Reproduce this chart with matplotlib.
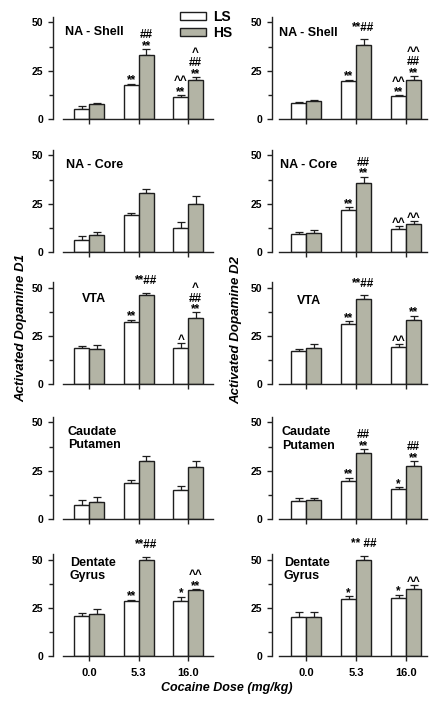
import matplotlib
matplotlib.use('Agg')
import matplotlib.pyplot as plt
import numpy as np

plt.rcParams['font.family'] = ['Liberation Sans', 'DejaVu Sans']
plt.rcParams['font.weight'] = 'bold'

# ---------------- data ----------------
doses = ["0.0", "5.3", "16.0"]
regions = ["NA - Shell", "NA - Core", "VTA", "Caudate\nPutamen", "Dentate\nGyrus"]
series = ["LS", "HS"]
ylabels = ["Activated Dopamine D1", "Activated Dopamine D2"]
xlabel = "Cocaine Dose (mg/kg)"

d1_ls = [[5.3, 17.4, 11.4], [6.0, 19.0, 12.6], [18.6, 32.0, 18.7], [7.4, 18.7, 15.2], [20.7, 28.4, 28.4]]
d1_ls_err = [[1.6, 0.9, 1.0], [2.3, 1.2, 3.1], [1.3, 1.3, 2.4], [2.4, 1.7, 1.9], [1.6, 0.7, 2.4]]
d1_hs = [[7.8, 33.3, 20.3], [8.6, 30.7, 24.8], [18.0, 45.9, 34.0], [8.6, 30.3, 27.2], [21.6, 50.0, 34.2]]
d1_hs_err = [[0.5, 2.9, 1.4], [1.7, 1.9, 4.3], [2.3, 1.4, 3.1], [2.9, 2.2, 2.8], [2.9, 1.5, 0.5]]

d2_ls = [[8.3, 19.8, 11.7], [9.5, 22.0, 12.1], [17.0, 30.9, 19.1], [9.4, 19.5, 15.5], [20.4, 29.4, 30.3]]
d2_ls_err = [[0.3, 0.5, 0.5], [0.7, 1.3, 1.3], [0.9, 1.7, 1.7], [1.4, 2.0, 1.1], [2.4, 1.7, 1.5]]
d2_hs = [[9.1, 38.4, 20.3], [9.8, 35.7, 14.3], [18.6, 44.3, 33.2], [10.1, 34.3, 27.5], [20.4, 49.5, 34.9]]
d2_hs_err = [[0.9, 3.0, 1.9], [1.6, 3.4, 1.6], [2.2, 1.7, 2.2], [1.0, 1.9, 2.4], [2.4, 2.5, 2.0]]

# significance marks
d1_ls_sig = [["", "**", "^^\n**"], ["", "", ""], ["", "**", "^"], ["", "", ""], ["", "**", "*"]]
d1_hs_sig = [["", "##\n**", "^\n##\n**"], ["", "", ""], ["", "**##", "^\n##\n**"], ["", "", ""], ["", "**##", "^^\n**"]]
d2_ls_sig = [["", "**", "^^\n**"], ["", "**", "^^"], ["", "**", "^^"], ["", "**", "*"], ["", "*", "*"]]
d2_hs_sig = [["", "**##", "^^\n##\n**"], ["", "##\n**", "^^"], ["", "**##", "**"], ["", "##\n**", "##\n**"], ["", "** ##", "^^"]]

# ---------------- layout ----------------
W, H = 448, 710
fig = plt.figure(figsize=(W / 100, H / 100), dpi=100)

col_x0 = [53, 272]
col_x1 = [213, 427]
row_zero = [119, 252, 384, 519, 656]
ppu = 1.93
ymax = 53
xlims = [(-0.73, 2.5), (-0.68, 2.42)]
xspine = [(-0.52, 2.5), (-0.54, 2.42)]
title_dx = [[12, 13, 29, 15, 17], [7, 8, 25, 10, 12]]
title_y = [[48.4, 48.4, 46.9, 48.4, 51.5], [47.9, 48.0, 45.9, 48.0, 51.5]]

ls_color = 'white'
hs_color = '#b3b4a5'
edge = '#1e1e1e'
bw = 0.3

cols = [
    (d1_ls, d1_ls_err, d1_hs, d1_hs_err, d1_ls_sig, d1_hs_sig),
    (d2_ls, d2_ls_err, d2_hs, d2_hs_err, d2_ls_sig, d2_hs_sig),
]

handles = None
for c, (ls, lse, hs, hse, lsig, hsig) in enumerate(cols):
    for r in range(5):
        x0 = col_x0[c]
        w = col_x1[c] - x0
        h = ymax * ppu
        bottom = H - row_zero[r]
        ax = fig.add_axes([x0 / W, bottom / H, w / W, h / H])
        x = np.arange(len(doses))
        b1 = ax.bar(x - bw, ls[r], bw, align='edge', color=ls_color, edgecolor=edge, linewidth=1.0, zorder=2)
        b2 = ax.bar(x, hs[r], bw, align='edge', color=hs_color, edgecolor=edge, linewidth=1.0, zorder=2)
        if handles is None:
            handles = [b1, b2]
        for xs, vals, errs in ((x - bw / 2, ls[r], lse[r]), (x + bw / 2, hs[r], hse[r])):
            ax.errorbar(xs, vals, yerr=[np.zeros(len(vals)), errs], fmt='none', ecolor=edge,
                        elinewidth=0.9, capsize=2.6, capthick=0.9, zorder=1)
        # significance text
        for xs, vals, errs, sig in ((x - bw / 2, ls[r], lse[r], lsig[r]), (x + bw / 2, hs[r], hse[r], hsig[r])):
            for xi, v, e, s in zip(xs, vals, errs, sig):
                if not s:
                    continue
                last = s.split('\n')[-1]
                dy = 4 if ('#' in last) else -2
                ax.annotate(s, xy=(xi, v + e), xytext=(0, dy), textcoords='offset points',
                            ha='center', va='bottom', fontsize=8.5, fontweight='bold',
                            linespacing=0.85, annotation_clip=False)
        ax.set_xlim(*xlims[c])
        ax.set_ylim(0, ymax)
        ax.spines['top'].set_visible(False)
        ax.spines['right'].set_visible(False)
        ax.spines['bottom'].set_bounds(*xspine[c])
        for sp in ('left', 'bottom'):
            ax.spines[sp].set_linewidth(1.0)
            ax.spines[sp].set_color('#222222')
        ax.set_xticks(x)
        if r == 4:
            ax.set_xticklabels(doses, fontsize=8, fontweight='bold')
        else:
            ax.set_xticklabels([])
        ax.set_yticks([0, 25, 50])
        ax.set_yticklabels(['0', '25', '50'], fontsize=7.5, fontweight='bold')
        ax.set_yticks([12.5, 37.5], minor=True)
        ax.tick_params(axis='both', which='major', length=3.6, width=1.0, color='#222222', pad=3.5)
        ax.tick_params(axis='x', which='major', pad=5)
        ax.tick_params(axis='y', which='minor', length=2.8, width=1.0, color='#222222')
        ax.tick_params(axis='x', which='minor', bottom=False)
        ax.patch.set_alpha(0)
        # region label
        ax.annotate(regions[r], xy=(0, title_y[c][r]), xycoords=('axes fraction', 'data'),
                    xytext=(title_dx[c][r] * 0.72, 0), textcoords='offset points',
                    ha='left', va='top', fontsize=9, fontweight='bold', linespacing=1.15)

fig.legend(handles, series, loc='upper left', bbox_to_anchor=(180 / W, 1 - 10 / H),
           frameon=False, handlelength=1.9, handleheight=0.55, handletextpad=0.5,
           labelspacing=0.15, borderaxespad=0, borderpad=0,
           prop={'weight': 'bold', 'size': 10})

fig.text(21 / W, 1 - 328 / H, ylabels[0], rotation=90, ha='center', va='center',
         fontsize=9.5, fontweight='bold', style='italic')
fig.text(236 / W, 1 - 330 / H, ylabels[1], rotation=90, ha='center', va='center',
         fontsize=9.5, fontweight='bold', style='italic')
fig.text(227 / W, 1 - 688 / H, xlabel, ha='center', va='center',
         fontsize=9, fontweight='bold', style='italic')

fig.savefig('out.png', dpi=100)
